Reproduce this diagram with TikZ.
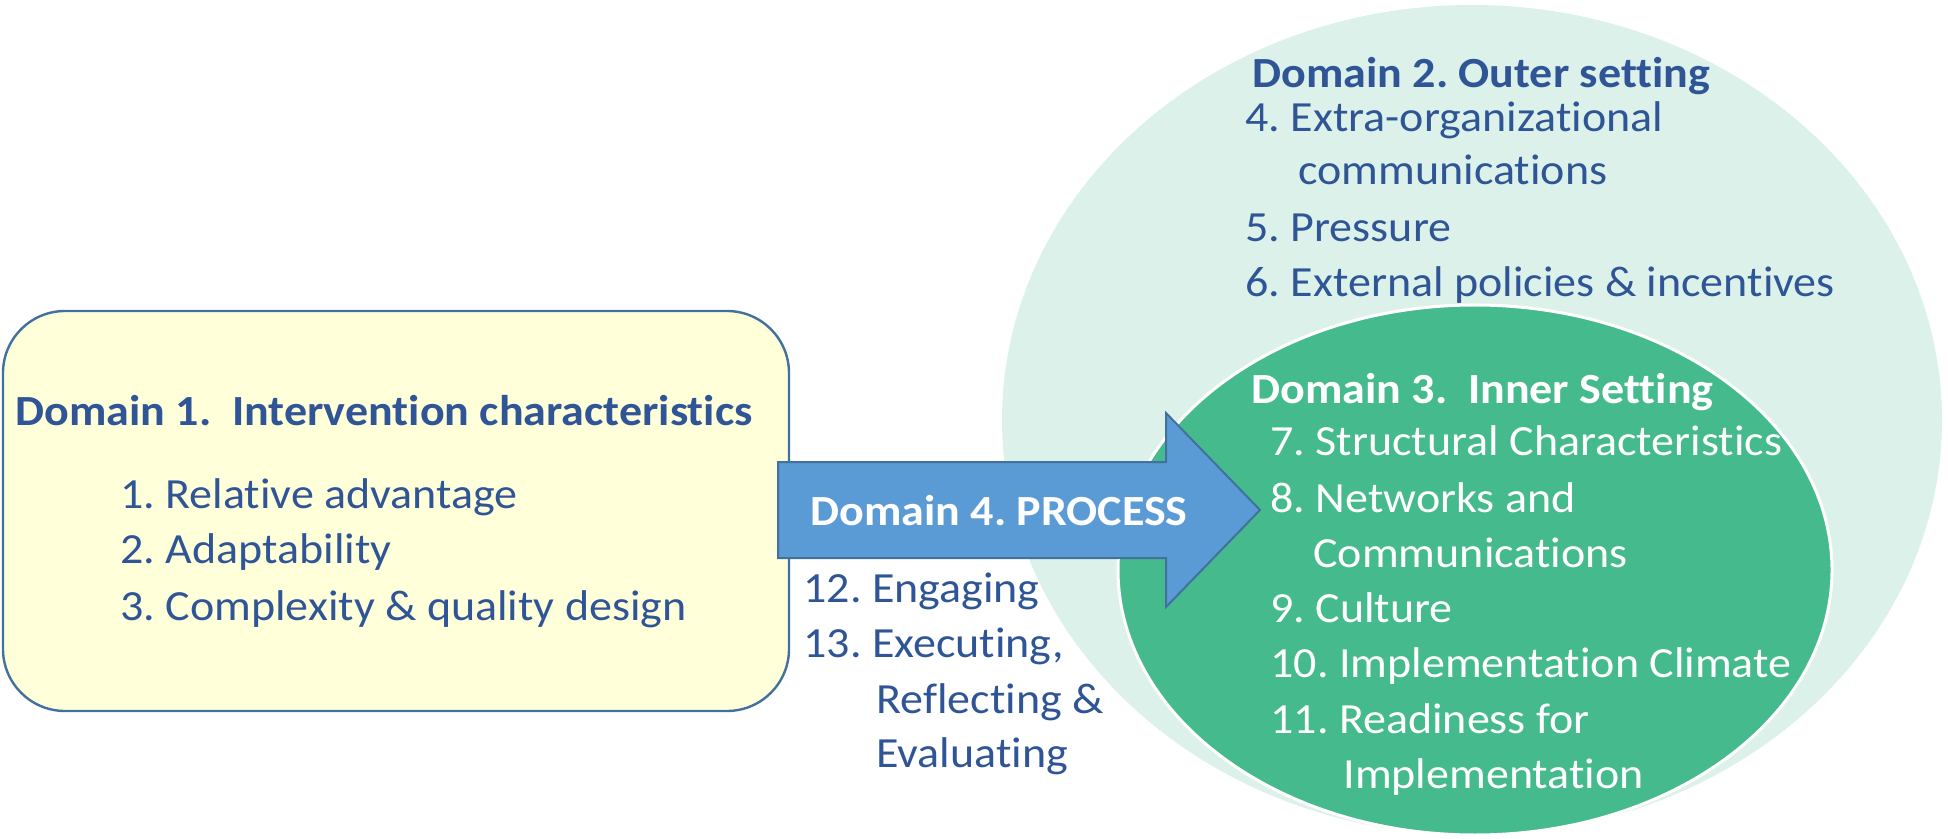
\documentclass[tikz,border=0pt]{standalone}
\usepackage{fontspec}
\setmainfont{Carlito}[FakeStretch=1.07, Ligatures=NoCommon]
\frenchspacing
\usetikzlibrary{shapes.geometric}
\definecolor{txtblue}{HTML}{2F5597}
\definecolor{mint}{HTML}{DCF1E9}
\definecolor{green}{HTML}{45BA8D}
\definecolor{paleyellow}{HTML}{FFFFDA}
\definecolor{edgeblue}{HTML}{41719C}
\definecolor{arrowblue}{HTML}{5B9BD5}
\tikzset{
  lbl/.style={anchor=base west, inner sep=0pt, font=\fontsize{21.5pt}{26pt}\selectfont},
  bluelbl/.style={lbl, text=txtblue},
  whitelbl/.style={lbl, text=white},
  ttl/.style={font=\fontsize{21.5pt}{26pt}\selectfont\bfseries},
}
\begin{document}
\begin{tikzpicture}[x=0.5pt,y=-0.5pt]
\useasboundingbox (0,0) rectangle (1948,839);
% outer ellipse
\node[ellipse, fill=mint, draw=none, minimum width=470pt, minimum height=415pt, inner sep=0pt] (outer) at (1472,420) {};
% inner ellipse
\node[ellipse, fill=green, draw=white, line width=1.5pt, minimum width=357pt, minimum height=265pt, inner sep=0pt] (inner) at (1475,570) {};
% domain 1 box
\node[rectangle, rounded corners=31pt, fill=paleyellow, draw=edgeblue, line width=1.2pt, minimum width=393pt, minimum height=200pt, inner sep=0pt] (box) at (396,511) {};
% arrow
\coordinate (a1) at (778,462);
\coordinate (a2) at (1166,462);
\coordinate (a3) at (1166,413);
\coordinate (a4) at (1260,510);
\coordinate (a5) at (1166,607);
\coordinate (a6) at (1166,558);
\coordinate (a7) at (778,558);
\draw[fill=arrowblue, draw=edgeblue, line width=1pt, line join=miter] (a1) -- (a2) -- (a3) -- (a4) -- (a5) -- (a6) -- (a7) -- cycle;
% Domain 1 text
\node[bluelbl, ttl] (d1) at (15,425) {Domain 1.\ \ Intervention characteristics};
\node[bluelbl] (i1) at (120,508) {1. Relative advantage};
\node[bluelbl] (i2) at (120,563) {2. Adaptability};
\node[bluelbl] (i3) at (120,620) {3. Complexity \& quality design};
% Domain 4
\node[whitelbl, ttl] (d4) at (810,525) {Domain 4. PROCESS};
\node[bluelbl] (i12) at (803,602) {12. Engaging};
\node[bluelbl] (i13) at (803,657) {13. Executing,};
\node[bluelbl] (i13b) at (876,713) {Reflecting \&};
\node[bluelbl] (i13c) at (876,767) {Evaluating};
% Domain 2
\node[bluelbl, ttl] (d2) at (1252,88) {Domain 2. Outer setting};
\node[bluelbl] (i4) at (1245,132) {4. Extra-organizational};
\node[bluelbl] (i4b) at (1298,185) {communications};
\node[bluelbl] (i5) at (1245,242) {5. Pressure};
\node[bluelbl] (i6) at (1245,297) {6. External policies \& incentives};
% Domain 3
\node[whitelbl, ttl] (d3) at (1251,403) {Domain 3.\ \ Inner Setting};
\node[whitelbl] (i7) at (1270,455) {7. Structural Characteristics};
\node[whitelbl] (i8) at (1270,512) {8. Networks and};
\node[whitelbl] (i8b) at (1313,567) {Communications};
\node[whitelbl] (i9) at (1270,622) {9. Culture};
\node[whitelbl] (i10) at (1270,677) {10. Implementation Climate};
\node[whitelbl] (i11) at (1270,733) {11. Readiness for};
\node[whitelbl] (i11b) at (1343,788) {Implementation};
\end{tikzpicture}
\end{document}
